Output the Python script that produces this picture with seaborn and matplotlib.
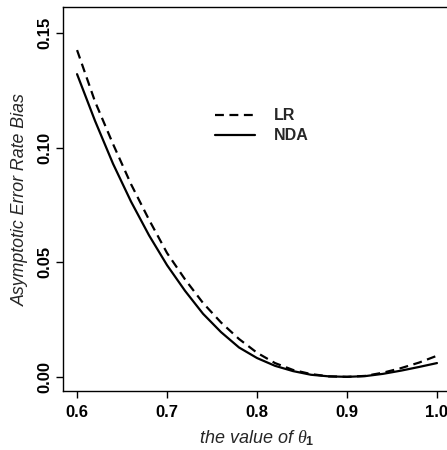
import numpy as np
import pandas as pd
import matplotlib
matplotlib.use("Agg")
import matplotlib.pyplot as plt
import seaborn as sns

# valores de theta_1
theta = [0.60, 0.62, 0.64, 0.66, 0.68, 0.70, 0.72, 0.74, 0.76, 0.78, 0.80,
         0.82, 0.84, 0.86, 0.88, 0.90, 0.92, 0.94, 0.96, 0.98, 1.00]

# vies assintotico da taxa de erro
bias_lr = [0.1425, 0.1200, 0.1015, 0.0840, 0.0685, 0.0540, 0.0425, 0.0322,
           0.0237, 0.0165, 0.0105, 0.0060, 0.0030, 0.0012, 0.0002, 0.0000,
           0.0004, 0.0018, 0.0038, 0.0062, 0.0092]
bias_nda = [0.1320, 0.1116, 0.0929, 0.0764, 0.0617, 0.0487, 0.0375, 0.0275,
            0.0195, 0.0128, 0.0082, 0.0048, 0.0025, 0.0009, 0.0002, 0.0000,
            0.0003, 0.0013, 0.0027, 0.0043, 0.0060]

methods = ["LR", "NDA"]

df = pd.DataFrame({
    "theta": theta * 2,
    "bias": bias_lr + bias_nda,
    "method": [methods[0]] * len(theta) + [methods[1]] * len(theta),
})

sns.set_style("ticks")
plt.rcParams["font.family"] = ["Liberation Sans", "DejaVu Sans"]
plt.rcParams["mathtext.fontset"] = "custom"
plt.rcParams["mathtext.it"] = "Liberation Serif:italic"
plt.rcParams["mathtext.rm"] = "Liberation Sans:bold"

fig = plt.figure(figsize=(4.47, 4.5), dpi=100)
ax = fig.add_axes([0.141, 0.131, 0.868, 0.853])

sns.lineplot(data=df, x="theta", y="bias", style="method", style_order=methods,
             dashes={"LR": (4, 2.5), "NDA": ""}, color="black", linewidth=1.6,
             ax=ax)

ax.set_xlim(0.5844, 1.0156)
ax.set_ylim(-0.0062, 0.1612)
ax.set_xticks([0.6, 0.7, 0.8, 0.9, 1.0])
ax.set_xticklabels(["0.6", "0.7", "0.8", "0.9", "1.0"])
ax.set_yticks([0.00, 0.05, 0.10, 0.15])
ax.set_yticklabels(["0.00", "0.05", "0.10", "0.15"], rotation=90, va="center")

for lab in ax.get_xticklabels() + ax.get_yticklabels():
    lab.set_fontweight("bold")
    lab.set_fontsize(12)

ax.tick_params(direction="out", length=5, width=1, colors="black", pad=5)
ax.tick_params(axis="y", pad=3)
for sp in ax.spines.values():
    sp.set_visible(True)
    sp.set_color("black")
    sp.set_linewidth(1.0)

ax.set_xlabel(r"the value of $\theta_\mathrm{1}$", fontsize=13, style="italic",
              fontweight="medium", labelpad=6)
ax.set_ylabel("Asymptotic Error Rate Bias", fontsize=12.8, style="italic",
              fontweight="medium", labelpad=6)

leg = ax.legend(loc="upper left", bbox_to_anchor=(0.355, 0.774), frameon=False,
                handlelength=2.5, handletextpad=1.2, labelspacing=0.3,
                prop={"weight": "bold", "size": 11.5})
leg.set_title(None)

plt.savefig("out.png", dpi=100)
plt.close()
